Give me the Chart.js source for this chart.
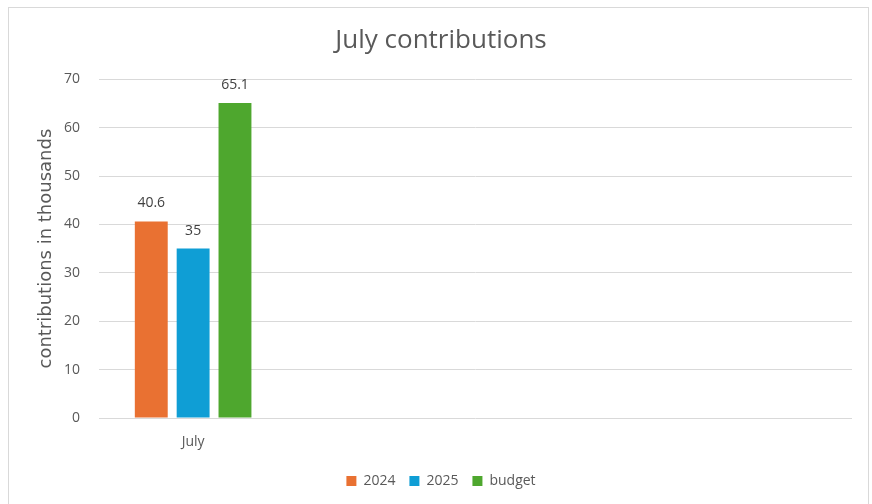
<!DOCTYPE html>
<html>
<head>
<meta charset="utf-8">
<script src="https://cdn.jsdelivr.net/npm/chart.js@4/dist/chart.umd.min.js"></script>
<style>
  html, body { margin: 0; padding: 0; background: #fff; }
  #wrap { position: relative; width: 872px; height: 504px; }
  #frame { position: absolute; left: 8px; top: 7px; width: 861px; height: 510px; border: 1px solid #d9d9d9; box-sizing: border-box; pointer-events: none; }
</style>
</head>
<body>
<div id="wrap">
  <canvas id="myChart" width="872" height="504"></canvas>
  <div id="frame"></div>
</div>
<script>
// categories (only July has data, the rest of the axis is empty slots)
const months = ["July", "", "", ""];
const contrib2024 = [40.6, null, null, null];
const contrib2025 = [35, null, null, null];
const budget = [65.1, null, null, null];
const yTicks = [0, 10, 20, 30, 40, 50, 60, 70];

const textColor = "#595959";
const gridColor = "#d9d9d9";
const fontFamily = "'Open Sans', 'Liberation Sans', sans-serif";

// draws the value above each bar, like excel data labels
const valueLabels = {
  id: "valueLabels",
  afterDatasetsDraw(chart) {
    const ctx = chart.ctx;
    ctx.save();
    ctx.font = "14px " + fontFamily;
    ctx.fillStyle = "#404040";
    ctx.textAlign = "center";
    ctx.textBaseline = "middle";
    chart.data.datasets.forEach((dataset, i) => {
      chart.getDatasetMeta(i).data.forEach((bar, j) => {
        const v = dataset.data[j];
        if (v === null || v === undefined) return;
        ctx.fillText(String(v), bar.x, bar.y - 18);
      });
    });
    ctx.restore();
  }
};

const ctx = document.getElementById("myChart").getContext("2d");

const data = {
  labels: months,
  datasets: [
    { label: "2024", data: contrib2024, backgroundColor: "#E97132" },
    { label: "2025", data: contrib2025, backgroundColor: "#0F9ED5" },
    { label: "budget", data: budget, backgroundColor: "#4EA72E" }
  ]
};

const config = {
  type: "bar",
  data: data,
  options: {
    responsive: false,
    animation: false,
    devicePixelRatio: 1,
    layout: { padding: { left: 30, right: 20, top: 0, bottom: 6 } },
    datasets: {
      bar: { categoryPercentage: 0.667, barPercentage: 0.786 }
    },
    scales: {
      x: {
        grid: { display: false, drawTicks: false },
        border: { display: false },
        ticks: { color: textColor, font: { family: fontFamily, size: 14 }, padding: 16 },
        afterFit: (scale) => { scale.height = 42; }
      },
      y: {
        min: 0,
        max: 70,
        afterBuildTicks: (scale) => { scale.ticks = yTicks.map(v => ({ value: v })); },
        grid: { color: gridColor, lineWidth: 1, drawTicks: false },
        border: { display: false },
        ticks: { color: textColor, font: { family: fontFamily, size: 14 }, padding: 19 },
        title: {
          display: true,
          text: "contributions in thousands",
          color: textColor,
          font: { family: "'DejaVu Sans', sans-serif", size: 18 },
          padding: { top: 6, bottom: 0 }
        },
        afterFit: (scale) => { scale.width = 69; }
      }
    },
    plugins: {
      title: {
        display: true,
        text: "July contributions",
        color: textColor,
        font: { family: fontFamily, size: 26, weight: "normal" },
        padding: { top: 25, bottom: 23 }
      },
      legend: {
        position: "bottom",
        labels: {
          color: textColor,
          font: { family: fontFamily, size: 14 },
          boxWidth: 10,
          boxHeight: 10,
          padding: 14
        }
      },
      tooltip: { enabled: false }
    }
  },
  plugins: [valueLabels]
};

const myChart = new Chart(ctx, config);
</script>
</body>
</html>
